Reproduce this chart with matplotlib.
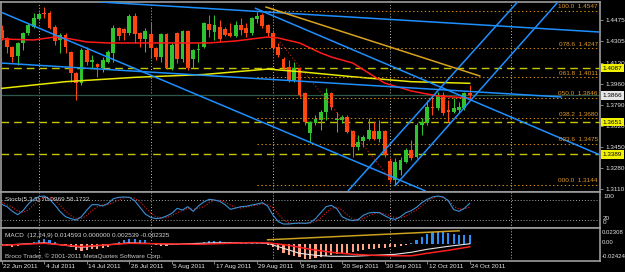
import numpy as np
import matplotlib
matplotlib.use("Agg")
import matplotlib.pyplot as plt
from matplotlib import transforms

plt.rcParams['font.family'] = ['Liberation Sans', 'DejaVu Sans']

# EURUSD daily bars, 22 Jun 2011 .. 24 Oct 2011
opens = [1.4395, 1.4330, 1.4257, 1.4184, 1.4289, 1.4370, 1.4419, 1.4483, 1.4532, 1.4532,
         1.4419, 1.4314, 1.4354, 1.4217, 1.4047, 1.3966, 1.4233, 1.4136, 1.4120, 1.4088,
         1.4136, 1.4209, 1.4411, 1.4403, 1.4370, 1.4508, 1.4370, 1.4322, 1.4362, 1.4249,
         1.4176, 1.4362, 1.4088, 1.4370, 1.4160, 1.4386, 1.4160, 1.4233, 1.4257, 1.4443,
         1.4378, 1.4419, 1.4403, 1.4370, 1.4346, 1.4435, 1.4411, 1.4370, 1.4483, 1.4516,
         1.4435, 1.4370, 1.4257, 1.4160, 1.4096, 1.3991, 1.4088, 1.3886, 1.3562, 1.3643,
         1.3667, 1.3732, 1.3886, 1.3667, 1.3667, 1.3692, 1.3579, 1.3449, 1.3498, 1.3514,
         1.3579, 1.3514, 1.3579, 1.3336, 1.3183, 1.3263, 1.3328, 1.3425, 1.3368, 1.3627,
         1.3643, 1.3772, 1.3764, 1.3869, 1.3748, 1.3732, 1.3748, 1.3764, 1.3886]
highs = [1.4435, 1.4338, 1.4265, 1.4298, 1.4378, 1.4451, 1.4532, 1.4540, 1.4580, 1.4548,
         1.4435, 1.4370, 1.4370, 1.4225, 1.4055, 1.4249, 1.4257, 1.4193, 1.4128, 1.4176,
         1.4233, 1.4435, 1.4419, 1.4411, 1.4524, 1.4532, 1.4378, 1.4411, 1.4459, 1.4257,
         1.4370, 1.4370, 1.4290, 1.4378, 1.4395, 1.4395, 1.4241, 1.4290, 1.4459, 1.4516,
         1.4516, 1.4475, 1.4419, 1.4451, 1.4467, 1.4492, 1.4451, 1.4500, 1.4540, 1.4532,
         1.4443, 1.4395, 1.4289, 1.4176, 1.4152, 1.4136, 1.4096, 1.3894, 1.3659, 1.3708,
         1.3748, 1.3926, 1.3894, 1.3732, 1.3708, 1.3708, 1.3587, 1.3546, 1.3546, 1.3684,
         1.3651, 1.3667, 1.3587, 1.3360, 1.3360, 1.3368, 1.3441, 1.3506, 1.3643, 1.3684,
         1.3829, 1.3853, 1.3894, 1.3894, 1.3829, 1.3845, 1.3813, 1.3894, 1.3950]
lows = [1.4314, 1.4209, 1.4136, 1.4112, 1.4233, 1.4354, 1.4411, 1.4475, 1.4492, 1.4403,
        1.4273, 1.4209, 1.4209, 1.3974, 1.3829, 1.3950, 1.4112, 1.4088, 1.4015, 1.4055,
        1.4128, 1.4136, 1.4314, 1.4314, 1.4354, 1.4290, 1.4257, 1.4217, 1.4168, 1.4152,
        1.4136, 1.4079, 1.4071, 1.4128, 1.4136, 1.4071, 1.4088, 1.4136, 1.4249, 1.4338,
        1.4314, 1.4298, 1.4346, 1.4338, 1.4338, 1.4354, 1.4338, 1.4354, 1.4451, 1.4411,
        1.4338, 1.4233, 1.4176, 1.4071, 1.3974, 1.3974, 1.3853, 1.3627, 1.3490, 1.3627,
        1.3587, 1.3667, 1.3748, 1.3570, 1.3643, 1.3562, 1.3368, 1.3425, 1.3449, 1.3506,
        1.3506, 1.3490, 1.3368, 1.3166, 1.3142, 1.3223, 1.3320, 1.3344, 1.3360, 1.3546,
        1.3627, 1.3708, 1.3748, 1.3708, 1.3651, 1.3724, 1.3724, 1.3748, 1.3829]
closes = [1.4330, 1.4257, 1.4176, 1.4289, 1.4370, 1.4435, 1.4492, 1.4524, 1.4524, 1.4411,
          1.4306, 1.4354, 1.4257, 1.4047, 1.3966, 1.4233, 1.4136, 1.4152, 1.4096, 1.4152,
          1.4217, 1.4411, 1.4346, 1.4370, 1.4508, 1.4362, 1.4322, 1.4386, 1.4249, 1.4176,
          1.4362, 1.4088, 1.4273, 1.4160, 1.4386, 1.4088, 1.4233, 1.4241, 1.4451, 1.4395,
          1.4435, 1.4322, 1.4354, 1.4346, 1.4435, 1.4395, 1.4370, 1.4492, 1.4508, 1.4427,
          1.4370, 1.4249, 1.4193, 1.4088, 1.3991, 1.4088, 1.3869, 1.3651, 1.3651, 1.3675,
          1.3732, 1.3886, 1.3772, 1.3675, 1.3692, 1.3570, 1.3449, 1.3490, 1.3530, 1.3587,
          1.3514, 1.3579, 1.3385, 1.3183, 1.3328, 1.3344, 1.3425, 1.3360, 1.3627, 1.3651,
          1.3772, 1.3764, 1.3869, 1.3724, 1.3732, 1.3764, 1.3772, 1.3886, 1.3866]

date_bars = [0, 8, 16, 24, 32, 40, 48, 56, 64, 72, 80, 88]
date_labels = ['22 Jun 2011', '4 Jul 2011', '14 Jul 2011', '26 Jul 2011', '5 Aug 2011',
               '17 Aug 2011', '29 Aug 2011', '8 Sep 2011', '20 Sep 2011', '30 Sep 2011',
               '12 Oct 2011', '24 Oct 2011']
month_starts = [7, 28, 51, 73, 95.7]

price_ticks = [1.4475, 1.4305, 1.4130, 1.3960, 1.3790, 1.3620, 1.3450, 1.3280, 1.3110]

# moving averages read as knots (bar, price)
red_ma_bars = [0, 6, 10, 13, 16, 20, 39, 44, 50, 52, 56, 60, 62, 66, 69, 72, 77, 82, 88]
red_ma = [1.4322, 1.4314, 1.4338, 1.4322, 1.4298, 1.4290, 1.4290, 1.4306, 1.4338, 1.4330,
          1.4290, 1.4209, 1.4176, 1.4128, 1.4047, 1.3966, 1.3902, 1.3861, 1.3845]
yel_ma_bars = [0, 12, 25, 38, 50, 56, 66, 77, 88]
yel_ma = [1.3923, 1.3977, 1.4012, 1.4035, 1.4079, 1.4058, 1.4017, 1.3977, 1.3964]

# drawn trend lines (bar, price) pairs
blue_lines = [((18.5, 1.4621), (112.5, 1.4378)),
              ((-0.3, 1.4128), (105.3, 1.3853)),
              ((-0.3, 1.4542), (79.7, 1.3094)),
              ((47.6, 1.4572), (112.5, 1.3385)),
              ((73.9, 1.3134), (104.6, 1.4621)),
              ((65.1, 1.3094), (97.0, 1.4621))]
orange_line = ((49.7, 1.4580), (89.9, 1.4023))
zigzag = ((52.3, 1.4298), (73.4, 1.3175))

fib_names = ['100.0', '078.6', '061.8', '050.0', '038.2', '023.6', '000.0']
fib_prices = [1.4547, 1.4247, 1.4011, 1.3846, 1.3680, 1.3475, 1.3144]
fib_start = 48
yellow_levels = [1.4087, 1.3651, 1.3389]
bid = 1.3866

stoch_k = [67, 60, 46, 36, 48, 68, 82, 90, 92, 82,
           65, 45, 30, 24, 20, 30, 50, 66, 66, 62,
           70, 84, 88, 89, 88, 78, 58, 38, 28, 24,
           26, 32, 40, 55, 50, 60, 46, 62, 74, 82,
           80, 76, 66, 52, 56, 60, 61, 65, 68, 72,
           62, 35, 15, 8, 8, 10, 11, 10, 12, 24,
           42, 60, 64, 54, 30, 22, 18, 21, 34, 41,
           43, 42, 33, 25, 22, 30, 42, 48, 58, 72,
           82, 89, 92, 89, 77, 51, 46, 55, 70]
stoch_d = [72, 66, 58, 47, 43, 50, 65, 80, 88, 88,
           80, 64, 47, 33, 25, 25, 33, 48, 60, 65,
           66, 72, 80, 87, 88, 85, 75, 58, 42, 30,
           26, 27, 33, 42, 48, 55, 52, 55, 60, 72,
           79, 79, 74, 65, 58, 56, 59, 62, 65, 68,
           67, 56, 38, 20, 11, 9, 10, 10, 11, 15,
           26, 42, 55, 59, 50, 35, 23, 20, 24, 32,
           39, 42, 39, 33, 27, 26, 32, 41, 50, 62,
           75, 86, 91, 88, 80, 62, 52, 54, 58]

macd_hist = [-1, -2, -3, -2, -1, 0.5, 2, 4, 5, 4,
             2, 0.5, -1, -3, -6, -7, -6, -5, -5, -4,
             -3, -1, 2, 4, 5, 5, 4, 4, 1, -1,
             -1.5, -2, -1, -1, 0.5, 1, 0.5, 1, 2, 3,
             3, 3, 2, 2, 1.5, 1, 1, 1.5, 1.5, 1,
             -0.5, -3, -6, -9, -11, -12, -13, -15, -15, -14,
             -13, -12, -11, -10, -10, -9, -8, -7, -6, -5,
             -5, -4, -4, -3, -3, -2, -1, 1, 4, 7,
             10, 12, 13, 12, 11, 10, 9, 9, 9]
macd_main_bars = [0, 8, 15, 24, 32, 40, 48, 50, 53, 56, 59, 62, 66, 70, 74, 77, 80, 84, 88]
macd_main = [-1, 1.5, -3, 1.5, 0, 1.5, 1.5, 1, -4, -9, -11, -12, -12, -11, -10, -8, -5, -2, 0.5]
macd_sig_bars = [0, 8, 15, 24, 37, 47, 50, 54, 58, 62, 66, 70, 74, 77, 80, 84, 88]
macd_sig = [-1, 1, -2.3, 1, 0, 1.7, 1.5, -1, -5, -8, -10, -11, -11.5, -11.5, -9, -6, -2.5]
macd_trend = ((50, 4.5), (86, 13.5))
macd_scale = 0.001

W, H = 625, 272
fig = plt.figure(figsize=(W / 100, H / 100), dpi=100, facecolor='black')


def panel(y0, y1):
    a = fig.add_axes([1 / W, 1 - y1 / H, 599 / W, (y1 - y0) / H], facecolor='black')
    for s in a.spines.values():
        s.set_color('#9c9c9c')
        s.set_linewidth(1.2)
    a.set_xlim(-0.13, 112.5)
    a.set_xticks([])
    a.set_yticks([])
    return a


ax = panel(1.5, 192)
st = panel(192, 228)
md = panel(228, 261)
ax.set_ylim(1.30856, 1.46249)
st.set_ylim(-4, 104)
md.set_ylim(-0.0167, 0.0163)

grey_txt = '#e4e4e4'
fs = 4.6

# month separators
for a in (ax, st, md):
    for m in month_starts:
        a.axvline(m, color='#bdbdbd', lw=0.7, ls=(0, (1, 2)), zorder=1)

# price axis
ax.yaxis.tick_right()
ax.set_yticks(price_ticks)
ax.set_yticklabels(['%.4f' % p for p in price_ticks])
ax.tick_params(axis='y', length=2.5, width=0.6, color='#9c9c9c', labelcolor=grey_txt,
               labelsize=fs, pad=1.5)

# horizontal levels
for lv in yellow_levels:
    ax.axhline(lv, color='#c4c400', lw=1.0, dashes=(5.5, 3.6), zorder=2)
ax.axhline(bid, color='#2d5a48', lw=0.9, zorder=2)

# candles
x = np.arange(len(opens))
o = np.array(opens); c = np.array(closes)
up = c >= o
cols = np.where(up, '#2fc42f', '#ff4510')
ax.vlines(x, lows, highs, colors=cols, lw=0.75, zorder=3)
body_lo = np.minimum(o, c)
body_h = np.maximum(np.abs(c - o), 0.0005)
ax.bar(x, body_h, bottom=body_lo, width=0.72, color=cols, lw=0, zorder=3)

# moving averages
ax.plot(yel_ma_bars, yel_ma, color='#e8e800', lw=1.1, zorder=4)
ax.plot(red_ma_bars, red_ma, color='#ff1a1a', lw=1.1, zorder=4)

# fibonacci
for name, p in zip(fib_names, fib_prices):
    ax.plot([fib_start, 112.5], [p, p], color='#d08a10', lw=0.7, ls=(0, (1.5, 2.5)), zorder=4)
    ax.text(112.1, p, '%s  %.4f' % (name, p), color='#e09a28', fontsize=fs, ha='right',
            va='bottom', zorder=6,
            transform=transforms.offset_copy(ax.transData, fig=fig, y=1.2, units='points'))

# drawn objects
for (x0, y0), (x1, y1) in blue_lines:
    ax.plot([x0, x1], [y0, y1], color='#1e8fff', lw=1.1, zorder=5, solid_capstyle='butt')
ax.plot([orange_line[0][0], orange_line[1][0]], [orange_line[0][1], orange_line[1][1]],
        color='#d9a21f', lw=1.1, zorder=5)
ax.plot([zigzag[0][0], zigzag[1][0]], [zigzag[0][1], zigzag[1][1]],
        color='#c02020', lw=0.8, ls=(0, (1, 2)), zorder=5)

# price boxes on the axis
box_tr = transforms.blended_transform_factory(ax.transAxes, ax.transData)
for lv in yellow_levels:
    ax.text(1.0045, lv, '%.4f' % lv, transform=box_tr, fontsize=fs, color='black', va='center',
            ha='left', clip_on=False, zorder=7,
            bbox=dict(boxstyle='square,pad=0.25', fc='#f2f200', ec='none'))
ax.text(1.0045, bid, '%.4f' % bid, transform=box_tr, fontsize=fs, color='black', va='center',
        ha='left', clip_on=False, zorder=7,
        bbox=dict(boxstyle='square,pad=0.25', fc='#e6e6e6', ec='none'))

# stochastic
st.axhline(80, color='#a8a8a8', lw=0.7, ls=(0, (1, 2)))
st.axhline(20, color='#a8a8a8', lw=0.7, ls=(0, (1, 2)))
st.plot(x, stoch_d, color='#e02020', lw=0.8, ls=(0, (1, 1.5)), zorder=3)
st.plot(x, stoch_k, color='#3a90d6', lw=0.8, zorder=4)
fig.text(5 / W, 1 - 199 / H, 'Stoch(5,3,3) 70.0969 58.1732', color='#d8d8d8', fontsize=fs,
         va='center', ha='left')
for lab, yy in [('100', 197), ('20', 218), ('0', 223)]:
    fig.text(603 / W, 1 - yy / H, lab, color=grey_txt, fontsize=fs, va='center', ha='left')

# MACD
hv = np.array(macd_hist) * macd_scale
md.bar(x, hv, width=0.4, color=np.where(hv >= 0, '#2d8ef5', '#ffa585'), lw=0, zorder=2)
md.plot(macd_main_bars, np.array(macd_main) * macd_scale, color='#e6e6e6', lw=0.8, zorder=3)
md.plot(macd_sig_bars, np.array(macd_sig) * macd_scale, color='#ff2020', lw=1.1, zorder=4)
md.plot([macd_trend[0][0], macd_trend[1][0]],
        [macd_trend[0][1] * macd_scale, macd_trend[1][1] * macd_scale],
        color='#c9a020', lw=1.1, zorder=4)
fig.text(5 / W, 1 - 236 / H, 'MACD  (12,24,9) 0.014593 0.000000 0.002539 -0.002325',
         color='#d8d8d8', fontsize=fs, va='center', ha='left')
fig.text(5 / W, 1 - 256 / H, 'Broco Trader, \u00a9 2001-2011 MetaQuotes Software Corp.',
         color='#c8c8c8', fontsize=fs, va='center', ha='left')
for lab, yy in [('0.02308', 232.5), ('0.00', 243), ('-0.02424', 256.7)]:
    fig.text(602 / W, 1 - yy / H, lab, color=grey_txt, fontsize=4.3, va='center', ha='left')

# date axis
md.set_xticks(date_bars)
md.set_xticklabels([])
md.tick_params(axis='x', length=2.5, width=0.6, color='#9c9c9c', direction='out')
date_tr = transforms.offset_copy(transforms.blended_transform_factory(md.transData, md.transAxes),
                                 fig=fig, x=1.0, y=-2.0, units='points')
for b, lab in zip(date_bars, date_labels):
    md.text(b, 0, lab, transform=date_tr, color=grey_txt, fontsize=fs, ha='left', va='top',
            clip_on=False)

fig.savefig('out.png', dpi=100, facecolor='black')
